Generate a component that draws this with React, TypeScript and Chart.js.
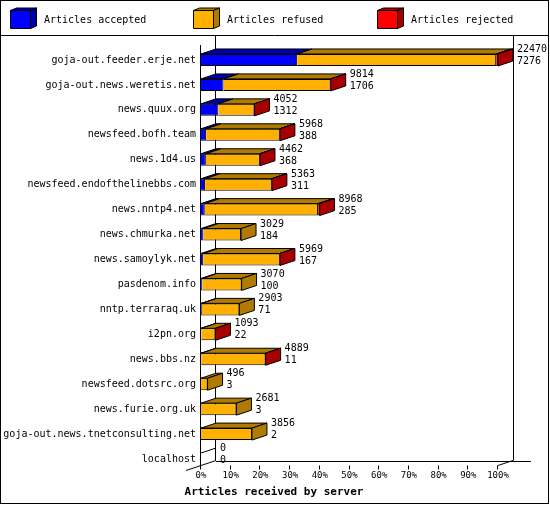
import { useEffect, useRef } from 'react';
import { Chart, registerables } from 'chart.js';

Chart.register(...registerables);

const servers = [
  'goja-out.feeder.erje.net',
  'goja-out.news.weretis.net',
  'news.quux.org',
  'newsfeed.bofh.team',
  'news.1d4.us',
  'newsfeed.endofthelinebbs.com',
  'news.nntp4.net',
  'news.chmurka.net',
  'news.samoylyk.net',
  'pasdenom.info',
  'nntp.terraraq.uk',
  'i2pn.org',
  'news.bbs.nz',
  'newsfeed.dotsrc.org',
  'news.furie.org.uk',
  'goja-out.news.tnetconsulting.net',
  'localhost',
];
const accepted = [7276, 1706, 1312, 388, 368, 311, 285, 184, 167, 100, 71, 22, 11, 3, 3, 2, 0];
const refused = [15054, 8096, 2730, 5565, 4086, 5042, 8563, 2845, 5792, 2970, 2832, 1066, 4870, 493, 2678, 3854, 0];
const rejected = [140, 12, 10, 15, 8, 10, 120, 0, 10, 0, 0, 5, 8, 0, 0, 0, 0];
const xTicks = [0, 10, 20, 30, 40, 50, 60, 70, 80, 90, 100];

const seriesNames = ['Articles accepted', 'Articles refused', 'Articles rejected'];
const frontColors = ['#0000FF', '#FFB000', '#FF0000'];
const darkColors = ['#0000A8', '#B07B00', '#A80000'];

const MONO = '"DejaVu Sans Mono", "Liberation Mono", monospace';
const DX = 15;
const DY = 5;

const offered = servers.map((_, i) => accepted[i] + refused[i] + rejected[i]);
const maxOffered = Math.max(...offered);
const toPct = (arr: number[]) => arr.map(v => (v / maxOffered) * 100);

const px = (v: number) => Math.round(v) + 0.5;

function poly(ctx: CanvasRenderingContext2D, pts: number[][], fill: string) {
  ctx.beginPath();
  ctx.moveTo(pts[0][0], pts[0][1]);
  for (let k = 1; k < pts.length; k++) ctx.lineTo(pts[k][0], pts[k][1]);
  ctx.closePath();
  ctx.fillStyle = fill;
  ctx.fill();
  ctx.stroke();
}

function seg(ctx: CanvasRenderingContext2D, x1: number, y1: number, x2: number, y2: number) {
  ctx.moveTo(x1, y1);
  ctx.lineTo(x2, y2);
}

const frame3d = {
  id: 'frame3d',
  beforeDraw(chart: any) {
    const { ctx, width, height } = chart;
    ctx.save();
    ctx.fillStyle = '#fff';
    ctx.fillRect(0, 0, width, height);
    ctx.restore();
  },
  beforeDatasetsDraw(chart: any) {
    const { ctx, chartArea: a, scales: { x } } = chart;
    const floor = a.bottom - 6;
    const l = x.getPixelForValue(0);
    const r = x.getPixelForValue(100);
    ctx.save();
    ctx.strokeStyle = '#000';
    ctx.lineWidth = 1;
    ctx.beginPath();
    seg(ctx, px(l + DX - 1), 36, px(l + DX - 1), floor - DY);
    seg(ctx, px(r + DX), 36, px(r + DX), floor - DY);
    seg(ctx, l + DX, px(floor - DY), r + DX + 18, px(floor - DY));
    seg(ctx, l - DX, floor + DY, l + DX, floor - DY);
    seg(ctx, r, floor, r + DX, floor - DY);
    ctx.stroke();
    ctx.restore();
  },
  afterDatasetsDraw(chart: any) {
    const { ctx, chartArea: a, scales: { x } } = chart;
    const metas = [0, 1, 2].map(d => chart.getDatasetMeta(d));
    const floor = a.bottom - 6;
    ctx.save();
    ctx.strokeStyle = '#000';
    ctx.lineWidth = 1;
    servers.forEach((_, i) => {
      let last = -1;
      let endX = x.getPixelForValue(0);
      let top = 0;
      let bottom = 0;
      let cy = 0;
      metas.forEach((m, d) => {
        const el = m.data[i];
        const p = el.getProps(['x', 'base', 'y', 'height'], true);
        top = p.y - p.height / 2;
        bottom = p.y + p.height / 2;
        cy = p.y;
        if (p.x - p.base > 0.05) {
          poly(ctx, [[p.base, top], [p.x, top], [p.x + DX, top - DY], [p.base + DX, top - DY]], darkColors[d]);
          last = d;
          endX = p.x;
        }
      });
      if (last >= 0) {
        poly(ctx, [[endX, top], [endX + DX, top - DY], [endX + DX, bottom - DY], [endX, bottom]], darkColors[last]);
      } else {
        ctx.beginPath();
        seg(ctx, endX, top, endX + DX, top - DY);
        ctx.stroke();
      }
      ctx.fillStyle = '#000';
      ctx.font = `10px ${MONO}`;
      ctx.textAlign = 'left';
      ctx.textBaseline = 'middle';
      ctx.fillText(String(offered[i]), endX + DX + 4, cy - 10.5);
      ctx.fillText(String(accepted[i]), endX + DX + 4, cy + 1.5);
    });

    // front value axis edge
    const l = x.getPixelForValue(0);
    ctx.beginPath();
    seg(ctx, px(l - 1), 45, px(l - 1), floor);
    xTicks.forEach(v => {
      const tx = px(x.getPixelForValue(v) - 1);
      seg(ctx, tx, floor, tx, floor + 4);
    });
    ctx.stroke();
    ctx.fillStyle = '#000';
    ctx.font = `9px ${MONO}`;
    ctx.textAlign = 'center';
    ctx.textBaseline = 'middle';
    xTicks.forEach(v => ctx.fillText(v + '%', x.getPixelForValue(v), floor + 10));

    ctx.font = `bold 11px ${MONO}`;
    ctx.fillText('Articles received by server', 274, 492);
    ctx.restore();
  },
  afterDraw(chart: any) {
    const { ctx } = chart;
    ctx.save();
    ctx.strokeStyle = '#000';
    ctx.lineWidth = 1;
    ctx.strokeRect(0.5, 0.5, 548, 503);
    ctx.beginPath();
    seg(ctx, 0, 35.5, 549, 35.5);
    ctx.stroke();
    const boxX = [10, 193, 377];
    seriesNames.forEach((name, d) => {
      const bx = boxX[d] + 0.5;
      const by = 10.5;
      const w = 20;
      const h = 18;
      poly(ctx, [[bx, by], [bx + w, by], [bx + w + 6, by - 2.5], [bx + 6, by - 2.5]], darkColors[d]);
      poly(ctx, [[bx + w, by], [bx + w + 6, by - 2.5], [bx + w + 6, by + h - 2.5], [bx + w, by + h]], darkColors[d]);
      poly(ctx, [[bx, by], [bx + w, by], [bx + w, by + h], [bx, by + h]], frontColors[d]);
      ctx.fillStyle = '#000';
      ctx.font = `10px ${MONO}`;
      ctx.textAlign = 'left';
      ctx.textBaseline = 'middle';
      ctx.fillText(name, boxX[d] + 34, 20.5);
    });
    ctx.restore();
  },
};

export default function App() {
  const canvasRef = useRef<HTMLCanvasElement>(null);

  useEffect(() => {
    if (!canvasRef.current) return;
    const values = [toPct(accepted), toPct(refused), toPct(rejected)];

    const chart = new Chart(canvasRef.current, {
      type: 'bar',
      data: {
        labels: servers,
        datasets: seriesNames.map((name, d) => ({
          label: name,
          data: values[d],
          backgroundColor: frontColors[d],
          borderColor: '#000',
          borderWidth: 1,
          borderSkipped: 'start',
          barThickness: 12,
          inflateAmount: 0,
        })),
      },
      options: {
        indexAxis: 'y',
        responsive: true,
        maintainAspectRatio: false,
        animation: false,
        layout: { padding: { left: 0, top: 47.5, right: 52, bottom: 33.5 } },
        scales: {
          x: { type: 'linear', min: 0, max: 100, stacked: true, display: false },
          y: {
            type: 'category',
            stacked: true,
            offset: true,
            grid: { display: false, drawTicks: false },
            border: { display: false },
            ticks: {
              autoSkip: false,
              padding: 5,
              color: '#000',
              font: { family: MONO, size: 10 },
            },
            afterFit: (s: any) => { s.width = 201; },
          },
        },
        plugins: {
          legend: { display: false },
          tooltip: { enabled: false },
        },
      },
      plugins: [frame3d],
    } as any);

    return () => { chart.destroy(); };
  }, []);

  return (
    <div style={{ position: 'absolute', left: 0, top: 0, width: 550, height: 505 }}>
      <canvas ref={canvasRef} />
    </div>
  );
}
